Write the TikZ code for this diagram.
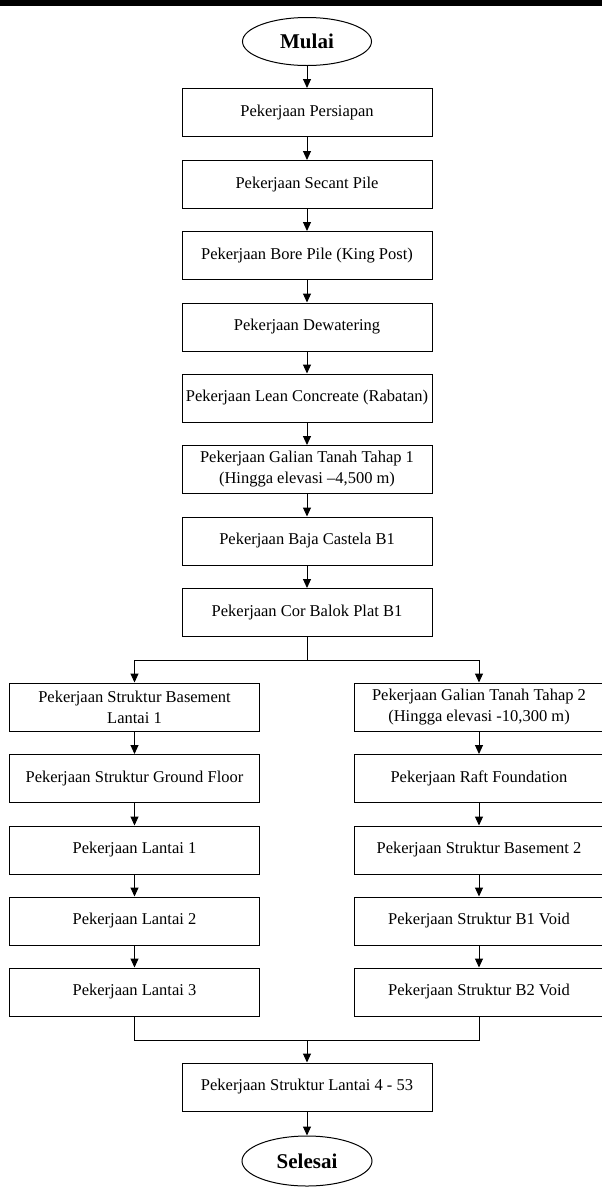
\documentclass[tikz,border=0pt]{standalone}
\usepackage{fontspec}
\setmainfont{Liberation Serif}
\usetikzlibrary{arrows.meta,shapes.geometric}
\tikzset{
  stepbox/.style={draw, line width=1pt, minimum width=250pt, minimum height=48pt, inner sep=0pt, align=center, font=\fontsize{16.5}{21}\selectfont},
  term/.style={draw, line width=1pt, ellipse, minimum width=129pt, minimum height=48pt, inner sep=0pt, font=\fontsize{21}{24}\selectfont\bfseries},
  flow/.style={line width=1pt, -{Triangle[length=9pt,width=8pt]}},
  link/.style={line width=1pt}
}
\begin{document}
\begin{tikzpicture}[x=1pt,y=-1pt]
\useasboundingbox (0,0) rectangle (602,1189);
\fill[black] (0,0) rectangle (602,6);
\node[term] (mulai) at (307,41.5) {Mulai};
\node[stepbox] (b1) at (307,112.5) {Pekerjaan Persiapan};
\node[stepbox] (b2) at (307,184.5) {Pekerjaan Secant Pile};
\node[stepbox] (b3) at (307,255.5) {Pekerjaan Bore Pile (King Post)};
\node[stepbox] (b4) at (307,327) {Pekerjaan Dewatering};
\node[stepbox] (b5) at (307,398) {Pekerjaan Lean Concreate (Rabatan)};
\node[stepbox] (b6) at (307,469.5) {Pekerjaan Galian Tanah Tahap 1\\(Hingga elevasi –4,500 m)};
\node[stepbox] (b7) at (307,541) {Pekerjaan Baja Castela B1};
\node[stepbox] (b8) at (307,612.5) {Pekerjaan Cor Balok Plat B1};
\coordinate (split) at (307,660);
\node[stepbox] (l1) at (134.5,707) {Pekerjaan Struktur Basement\\Lantai 1};
\node[stepbox] (l2) at (134.5,778.5) {Pekerjaan Struktur Ground Floor};
\node[stepbox] (l3) at (134.5,850) {Pekerjaan Lantai 1};
\node[stepbox] (l4) at (134.5,921) {Pekerjaan Lantai 2};
\node[stepbox] (l5) at (134.5,992) {Pekerjaan Lantai 3};
\node[stepbox] (r1) at (479,707) {Pekerjaan Galian Tanah Tahap 2\\(Hingga elevasi -10,300 m)};
\node[stepbox] (r2) at (479,778.5) {Pekerjaan Raft Foundation};
\node[stepbox] (r3) at (479,850) {Pekerjaan Struktur Basement 2};
\node[stepbox] (r4) at (479,921) {Pekerjaan Struktur B1 Void};
\node[stepbox] (r5) at (479,992) {Pekerjaan Struktur B2 Void};
\coordinate (merge) at (307,1040);
\node[stepbox] (f1) at (307,1087) {Pekerjaan Struktur Lantai 4 - 53};
\node[term, minimum width=130pt, minimum height=50pt] (selesai) at (307,1161) {Selesai};
\draw[flow] (mulai) -- (b1);
\draw[flow] (b1) -- (b2);
\draw[flow] (b2) -- (b3);
\draw[flow] (b3) -- (b4);
\draw[flow] (b4) -- (b5);
\draw[flow] (b5) -- (b6);
\draw[flow] (b6) -- (b7);
\draw[flow] (b7) -- (b8);
\draw[link] (b8) -- (split);
\draw[flow] (split) -| (l1);
\draw[flow] (split) -| (r1);
\draw[flow] (l1) -- (l2);
\draw[flow] (l2) -- (l3);
\draw[flow] (l3) -- (l4);
\draw[flow] (l4) -- (l5);
\draw[flow] (r1) -- (r2);
\draw[flow] (r2) -- (r3);
\draw[flow] (r3) -- (r4);
\draw[flow] (r4) -- (r5);
\draw[link] (l5) |- (merge);
\draw[link] (r5) |- (merge);
\draw[flow] (merge) -- (f1);
\draw[flow] (f1) -- (selesai);
\end{tikzpicture}
\end{document}
